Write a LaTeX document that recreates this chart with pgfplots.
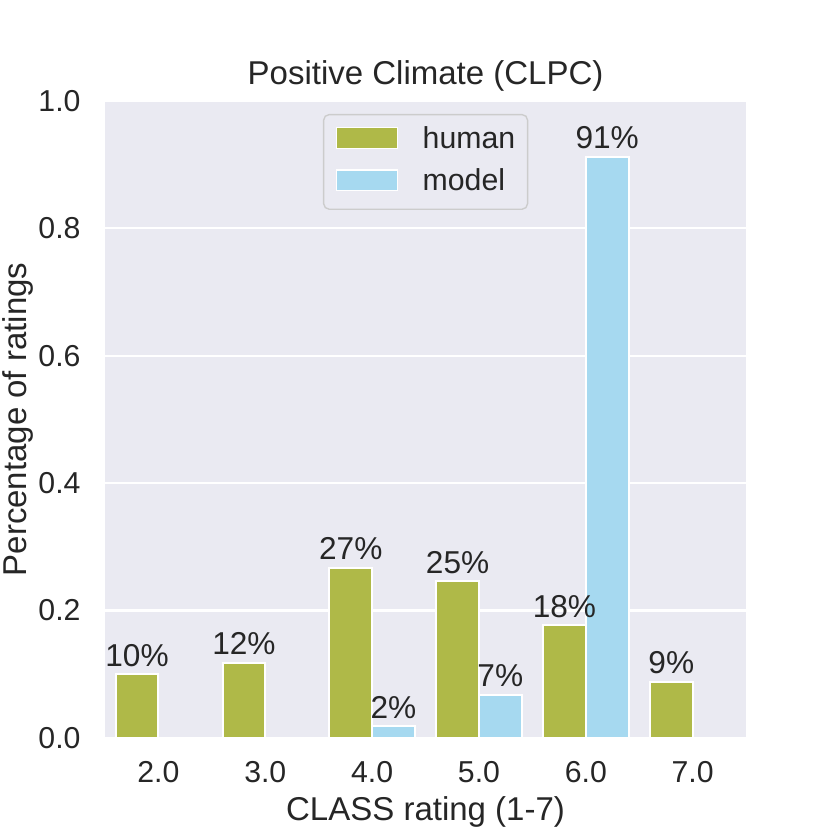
\documentclass[border=0pt]{standalone}
\usepackage{pgfplots}
\pgfplotsset{compat=1.18}
\usepackage{fontspec}
\setmainfont{Liberation Sans}
\definecolor{bg}{HTML}{EAEAF2}
\definecolor{human}{HTML}{AFB948}
\definecolor{model}{HTML}{A6D9F0}
\definecolor{txt}{HTML}{262626}
\definecolor{legedge}{HTML}{CCCCCC}
\begin{document}
\begin{tikzpicture}
\useasboundingbox (-38.18pt,-33.45pt) rectangle (263.6pt,268.3pt);
\begin{axis}[
  at={(0pt,0pt)}, anchor=south west,
  width=233.1pt, height=231.6pt, scale only axis,
  xmin=-0.5, xmax=5.5, ymin=0, ymax=1,
  clip=false,
  axis background/.style={fill=bg},
  axis line style={draw=none},
  major tick length=0pt,
  xtick={0,1,2,3,4,5},
  xticklabels={2.0,3.0,4.0,5.0,6.0,7.0},
  ytick={0,0.2,0.4,0.6,0.8,1.0},
  yticklabels={0.0,0.2,0.4,0.6,0.8,1.0},
  ymajorgrids,
  major grid style={white, line width=0.8pt},
  tick label style={font=\fontsize{11}{13}\selectfont, text=txt, inner sep=0pt},
  xticklabel style={anchor=north, yshift=-8.5pt},
  yticklabel style={anchor=east, xshift=-8.7pt},
  xlabel={CLASS rating (1-7)},
  xlabel style={at={(axis description cs:0.5,-0.0920)}, anchor=north, inner sep=0pt, font=\fontsize{12}{14}\selectfont, text=txt},
  ylabel={Percentage of ratings},
  ylabel style={at={(axis description cs:-0.1613,0.5)}, anchor=north, inner sep=0pt, font=\fontsize{12}{14}\selectfont, text=txt},
  title={Positive Climate (CLPC)},
  every axis title shift=0pt,
  title style={at={(axis description cs:0.5,1)}, anchor=base, yshift=5.8pt, inner sep=0pt, font=\fontsize{12}{14}\selectfont, text=txt},
  legend style={at={(axis description cs:0.340,0.9796)}, anchor=north west, draw=legedge, line width=0.5pt, fill=bg, rounded corners=2pt, inner xsep=4.5pt, inner ysep=4.4pt, row sep=5pt, column sep=8.8pt, font=\fontsize{11}{13}\selectfont, text=txt, cells={anchor=base west}, nodes={inner sep=0pt, text height=8pt, text depth=2.3pt}},
]
\addplot[ybar, bar width=0.4, bar shift=-0.2, fill=human, draw=white, line width=0.7pt,
  nodes near coords, point meta=explicit symbolic,
  every node near coord/.append style={anchor=south, inner sep=0pt, xshift=-7.77pt, yshift=2.5pt, font=\fontsize{11.5}{13}\selectfont, text=txt},
  legend image code/.code={\draw[fill=human, draw=white, line width=0.5pt, sharp corners] (0pt,0pt) rectangle (22.2pt,7.6pt);}]
coordinates {(0,0.100) [10\%] (1,0.118) [12\%] (2,0.267) [27\%] (3,0.246) [25\%] (4,0.177) [18\%] (5,0.088) [9\%]};
\addlegendentry{human}
\addplot[ybar, bar width=0.4, bar shift=0.2, fill=model, draw=white, line width=0.7pt,
  nodes near coords, point meta=explicit symbolic,
  every node near coord/.append style={anchor=south, inner sep=0pt, xshift=7.77pt, yshift=2.5pt, font=\fontsize{11.5}{13}\selectfont, text=txt},
  legend image code/.code={\draw[fill=model, draw=white, line width=0.5pt, sharp corners] (0pt,0pt) rectangle (22.2pt,7.6pt);}]
coordinates {(2,0.018) [2\%] (3,0.068) [7\%] (4,0.912) [91\%]};
\addlegendentry{model}
\end{axis}
\end{tikzpicture}
\end{document}
